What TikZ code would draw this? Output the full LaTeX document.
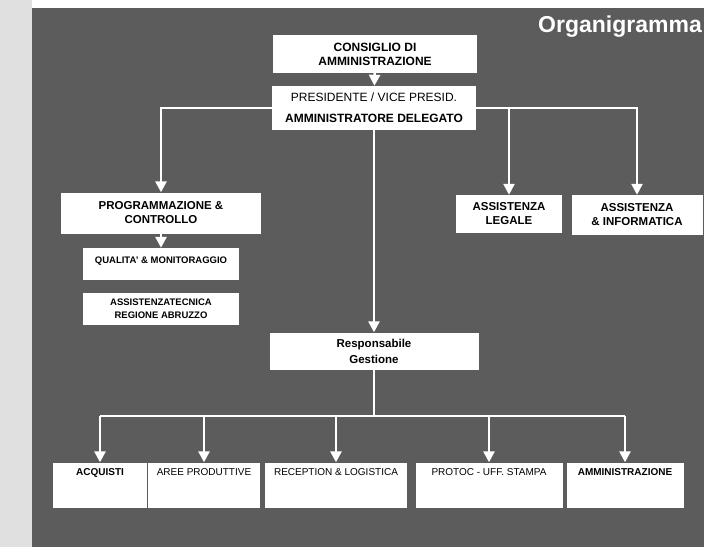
\documentclass[tikz,border=0pt]{standalone}
\usepackage{fontspec}
\setmainfont{Liberation Sans}
\usepackage{xcolor}
\usetikzlibrary{arrows.meta}

\definecolor{scangray}{gray}{0.36}

\begin{document}
\begin{tikzpicture}[x=1pt,y=-1pt,
  >={Triangle[width=11pt,length=11pt]},
  wire/.style={white,line width=2.5pt},
  box/.style={rectangle,fill=white,inner sep=0pt,align=center,text=black},
  big/.style={font=\bfseries\fontsize{11.5}{14}\selectfont},
  small/.style={font=\fontsize{10}{12}\selectfont}]
\useasboundingbox (0,0) rectangle (704,547);
\fill[white] (0,0) rectangle (704,547);
\fill[black!12] (0,0) rectangle (32,547);
\fill[scangray] (32,8) rectangle (704,547);

\node (title)[anchor=base east,inner sep=0pt,text=white,font=\bfseries\fontsize{23}{23}\selectfont] at (702,32) {Organigramma};

\node (CdA)[box,minimum width=204pt,minimum height=38pt,font=\bfseries\fontsize{12}{14}\selectfont] at (375,54) {CONSIGLIO DI\\AMMINISTRAZIONE};
\node (Pres)[box,minimum width=204pt,minimum height=44pt,font=\fontsize{12}{21}\selectfont] at (374,108) {PRESIDENTE / VICE PRESID.\\\textbf{AMMINISTRATORE DELEGATO}};

\node (Prog)[box,big,minimum width=200pt,minimum height=41pt] at (161,213) {PROGRAMMAZIONE \&\\CONTROLLO};
\node (Qual)[box,minimum width=156pt,text height=15pt,text depth=17pt,font=\bfseries\fontsize{9.5}{12}\selectfont] at (161,264) {QUALITA' \& MONITORAGGIO};
\node (Tecn)[box,minimum width=156pt,minimum height=32pt,font=\bfseries\fontsize{9.5}{13}\selectfont] at (161,309) {ASSISTENZATECNICA\\REGIONE ABRUZZO};

\node (Legale)[box,big,minimum width=106pt,minimum height=38pt] at (509,214) {ASSISTENZA\\LEGALE};
\node (Info)[box,big,minimum width=131pt,minimum height=40pt] at (637,215) {ASSISTENZA\\\& INFORMATICA};

\node (Resp)[box,minimum width=209pt,minimum height=37pt,font=\bfseries\fontsize{11.5}{16}\selectfont] at (374,351) {Responsabile\\Gestione};

\node (Acq)[box,small,minimum width=94pt,text height=13pt,text depth=32pt] at (100,485) {\textbf{ACQUISTI}};
\node (Aree)[box,small,minimum width=112pt,text height=13pt,text depth=32pt] at (204,485) {AREE PRODUTTIVE};
\node (Rec)[box,small,minimum width=142pt,text height=13pt,text depth=32pt] at (336,485) {RECEPTION \& LOGISTICA};
\node (Prot)[box,small,minimum width=147pt,text height=13pt,text depth=32pt] at (489,485) {PROTOC - UFF. STAMPA};
\node (Amm)[box,small,minimum width=117pt,text height=13pt,text depth=32pt] at (625,485) {\textbf{AMMINISTRAZIONE}};

\draw[wire,->] (CdA) -- (Pres);
\draw[wire,->] (Pres.west) -| (Prog.north);
\draw[wire,->] (Pres.east) -| (Info.north);
\draw[wire,->] (Pres.east -| Legale.north) -- (Legale.north);
\draw[wire,->] (Pres) -- (Resp);
\draw[wire,->] (Prog) -- (Qual);

\coordinate (bus) at (374,416);
\draw[wire] (Resp) -- (bus);
\draw[wire] (Acq.north |- bus) -- (Amm.north |- bus);
\foreach \n in {Acq,Aree,Rec,Prot,Amm}
  \draw[wire,->] (\n.north |- bus) -- (\n.north);
\end{tikzpicture}
\end{document}
